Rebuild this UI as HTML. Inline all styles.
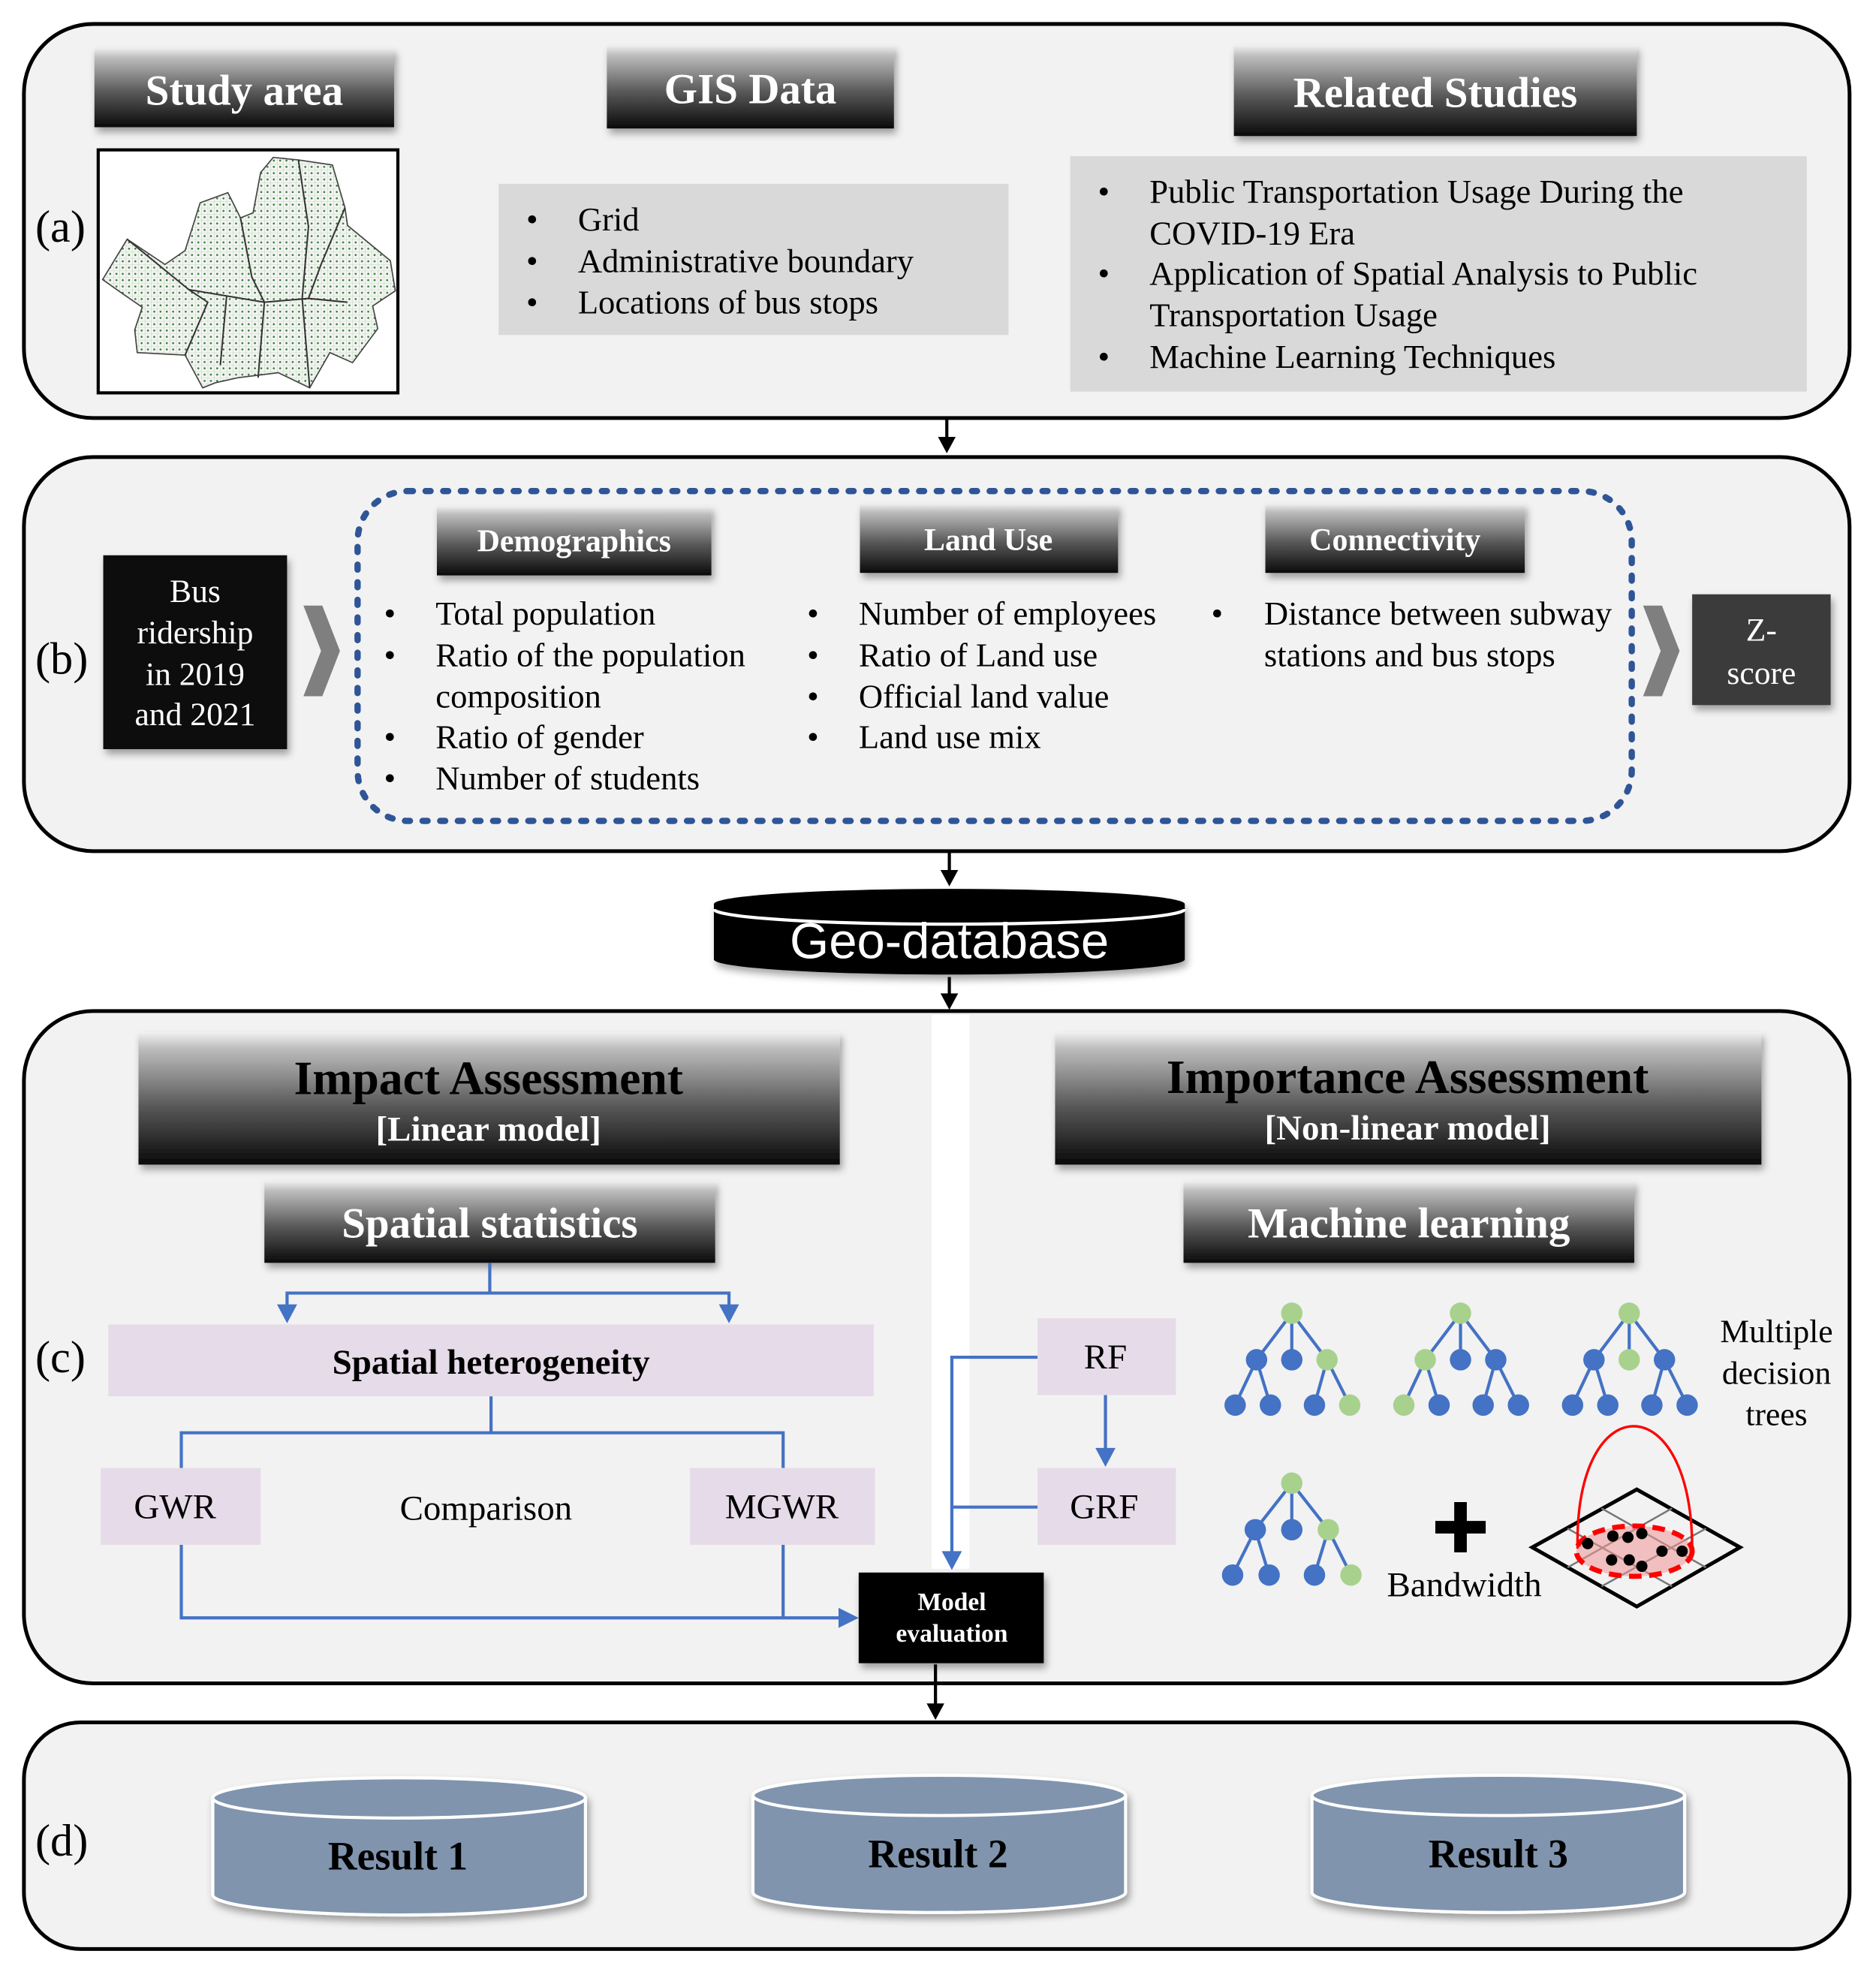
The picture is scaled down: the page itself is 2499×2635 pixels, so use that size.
<!DOCTYPE html>
<html><head><meta charset="utf-8"><style>
html,body{margin:0;padding:0;background:#fff;}
svg{display:block;}
text{font-family:"Liberation Serif",serif;}
</style></head><body>
<svg width="2499" height="2635" viewBox="0 0 1490 1571" xmlns="http://www.w3.org/2000/svg">
<defs>
<linearGradient id="hg" x1="0" y1="0" x2="0" y2="1">
<stop offset="0" stop-color="#f0f0f0"/><stop offset="0.12" stop-color="#bdbdbd"/><stop offset="0.55" stop-color="#5a5a5a"/><stop offset="1" stop-color="#0a0a0a"/></linearGradient>
<filter id="sh" x="-10%" y="-10%" width="130%" height="140%"><feDropShadow dx="2" dy="4" stdDeviation="3" flood-color="#000" flood-opacity="0.35"/></filter>
<pattern id="grid" width="5" height="5" patternUnits="userSpaceOnUse"><rect width="5" height="5" fill="#f3f6f2"/><path d="M0 0H5M0 0V5" stroke="#b5c9b0" stroke-width="0.5"/><circle cx="2.5" cy="2.5" r="0.8" fill="#3f7a3f"/></pattern>
</defs>

<!-- (a) -->
<rect x="19" y="19" width="1450" height="313" rx="55" fill="#f2f2f2" stroke="#000" stroke-width="3"/>
<text x="28" y="192" font-size="36">(a)</text>
<g filter="url(#sh)">
<rect x="75" y="38" width="238" height="63" fill="url(#hg)"/>
<rect x="482" y="36" width="228" height="66" fill="url(#hg)"/>
<rect x="980" y="36" width="320" height="72" fill="url(#hg)"/>
</g>
<g fill="#fff" font-weight="bold" text-anchor="middle">
<text x="194" y="83" font-size="34">Study area</text>
<text x="596" y="82" font-size="34">GIS Data</text>
<text x="1140" y="85" font-size="34">Related Studies</text>
</g>
<rect x="78" y="119" width="238" height="193" fill="#fff" stroke="#000" stroke-width="2.5"/>
<path d="M81.5,222 L101,190 L131,210 L147,199 L159,161 L181,153 L191,173 L201,169 L207,137 L217,125 L237,127 L264,131 L274,165 L276,179 L310,207 L314,231 L296,243 L300,261 L280,288 L262,280 L246,308 L221,296 L189,300 L171,304 L161,308 L147,282 L109,280 L107,262 L113,244 L97,233 Z" fill="url(#grid)" stroke="#444" stroke-width="1"/>
<path d="M101,190 L150,230 L180,235 L210,240 L245,237 L276,240 M191,173 L200,220 L210,240 L205,300 M237,127 L245,180 L240,237 L246,308 M147,282 L165,240 L150,230 M274,165 L255,210 L245,237 M180,235 L175,290" stroke="#333" stroke-width="1.2" fill="none"/>
<rect x="396" y="146" width="405" height="120" fill="#d9d9d9"/>
<g font-size="26.6">
<text x="418" y="183">•</text><text x="459" y="183">Grid</text>
<text x="418" y="216">•</text><text x="459" y="216">Administrative boundary</text>
<text x="418" y="249">•</text><text x="459" y="249">Locations of bus stops</text>
</g>
<rect x="850" y="124" width="585" height="187" fill="#d9d9d9"/>
<g font-size="26.6">
<text x="872" y="161">•</text><text x="913" y="161">Public Transportation Usage During the</text>
<text x="913" y="194">COVID-19 Era</text>
<text x="872" y="226">•</text><text x="913" y="226">Application of Spatial Analysis to Public</text>
<text x="913" y="259">Transportation Usage</text>
<text x="872" y="292">•</text><text x="913" y="292">Machine Learning Techniques</text>
</g>
<line x1="752" y1="333" x2="752" y2="350" stroke="#000" stroke-width="2.5"/><path d="M745,347 L759,347 L752,360 z"/>

<!-- (b) -->
<rect x="19" y="363" width="1450" height="313" rx="55" fill="#f2f2f2" stroke="#000" stroke-width="3"/>
<text x="28" y="535" font-size="36">(b)</text>
<rect x="284" y="390" width="1012" height="262" rx="40" fill="none" stroke="#2f5597" stroke-width="5" stroke-dasharray="4 10" stroke-linecap="round"/>
<rect x="82" y="441" width="146" height="154" fill="#0d0d0d" filter="url(#sh)"/>
<g fill="#fff" font-size="26" text-anchor="middle">
<text x="155" y="478">Bus</text><text x="155" y="511">ridership</text><text x="155" y="544">in 2019</text><text x="155" y="576">and 2021</text>
</g>
<path d="M241,481 L256,481 L270,517 L256,553 L241,553 L255,517 z" fill="#7f7f7f"/>
<path d="M1305,481 L1320,481 L1334,517 L1320,553 L1305,553 L1319,517 z" fill="#7f7f7f"/>
<rect x="1344" y="472" width="110" height="88" fill="#3b3b3b" filter="url(#sh)"/>
<g fill="#fff" font-size="26" text-anchor="middle"><text x="1399" y="509">Z-</text><text x="1399" y="543">score</text></g>
<g filter="url(#sh)">
<rect x="347" y="402" width="218" height="55" fill="url(#hg)"/>
<rect x="683" y="400" width="205" height="55" fill="url(#hg)"/>
<rect x="1005" y="400" width="206" height="55" fill="url(#hg)"/>
</g>
<g fill="#fff" font-weight="bold" font-size="25" text-anchor="middle">
<text x="456" y="438">Demographics</text><text x="785" y="437">Land Use</text><text x="1108" y="437">Connectivity</text>
</g>
<g font-size="26.6">
<text x="305" y="496">•</text><text x="346" y="496">Total population</text>
<text x="305" y="529">•</text><text x="346" y="529">Ratio of the population</text>
<text x="346" y="562">composition</text>
<text x="305" y="594">•</text><text x="346" y="594">Ratio of gender</text>
<text x="305" y="627">•</text><text x="346" y="627">Number of students</text>
<text x="641" y="496">•</text><text x="682" y="496">Number of employees</text>
<text x="641" y="529">•</text><text x="682" y="529">Ratio of Land use</text>
<text x="641" y="562">•</text><text x="682" y="562">Official land value</text>
<text x="641" y="594">•</text><text x="682" y="594">Land use mix</text>
<text x="962" y="496">•</text><text x="1004" y="496">Distance between subway</text>
<text x="1004" y="529">stations and bus stops</text>
</g>
<line x1="754" y1="677" x2="754" y2="694" stroke="#000" stroke-width="2.5"/><path d="M747,691 L761,691 L754,704 z"/>

<!-- Geo-database -->
<g filter="url(#sh)">
<path d="M567,718 A187,12 0 0 1 941,718 L941,762 A187,12 0 0 1 567,762 Z" fill="#000"/>
</g>
<path d="M567,722 A187,12 0 0 0 941,722" fill="none" stroke="#fff" stroke-width="2.5"/>
<text x="754" y="761" font-size="40" fill="#fff" text-anchor="middle" style="font-family:'Liberation Sans',sans-serif">Geo-database</text>
<line x1="754" y1="776" x2="754" y2="792" stroke="#000" stroke-width="2.5"/><path d="M747,789 L761,789 L754,802 z"/>

<!-- (c) -->
<rect x="19" y="803" width="1450" height="534" rx="55" fill="#f2f2f2" stroke="#000" stroke-width="3"/>
<rect x="740" y="806" width="30" height="440" fill="#fff"/>
<text x="28" y="1090" font-size="36">(c)</text>
<g filter="url(#sh)">
<rect x="110" y="820" width="557" height="105" fill="url(#hg)"/>
<rect x="838" y="820" width="561" height="105" fill="url(#hg)"/>
<rect x="210" y="938" width="358" height="65" fill="url(#hg)"/>
<rect x="940" y="938" width="358" height="65" fill="url(#hg)"/>
</g>
<g font-weight="bold" text-anchor="middle">
<text x="388" y="869" font-size="38" fill="#000">Impact Assessment</text>
<text x="388" y="906" font-size="28" fill="#fff">[Linear model]</text>
<text x="1118" y="868" font-size="38" fill="#000">Importance Assessment</text>
<text x="1118" y="905" font-size="28" fill="#fff">[Non-linear model]</text>
<text x="389" y="983" font-size="34" fill="#fff">Spatial statistics</text>
<text x="1119" y="983" font-size="34" fill="#fff">Machine learning</text>
</g>
<g stroke="#4472c4" stroke-width="2.5" fill="none">
<path d="M389,1003 V1027 M228,1040 V1027 H579 V1040"/>
<path d="M390,1109 V1138 M144,1166 V1138 H622 V1166"/>
<path d="M144,1227 V1285 H668 M622,1227 V1285"/>
<path d="M824,1078 H756 V1235 M824,1197 H756"/>
<path d="M878,1108 V1152"/>
</g>
<g fill="#4472c4">
<path d="M220,1036 L236,1036 L228,1051 z"/><path d="M571,1036 L587,1036 L579,1051 z"/>
<path d="M666,1277 L682,1285 L666,1293 z"/>
<path d="M748,1232 L764,1232 L756,1247 z"/>
<path d="M870,1150 L886,1150 L878,1165 z"/>
</g>
<rect x="86" y="1052" width="608" height="57" fill="#e6dbe8"/>
<text x="390" y="1091" font-size="28" font-weight="bold" text-anchor="middle">Spatial heterogeneity</text>
<rect x="80" y="1166" width="127" height="61" fill="#e6dbe8"/>
<rect x="548" y="1166" width="147" height="61" fill="#e6dbe8"/>
<rect x="824" y="1047" width="110" height="61" fill="#e6dbe8"/>
<rect x="824" y="1166" width="110" height="61" fill="#e6dbe8"/>
<g font-size="28" text-anchor="middle">
<text x="139" y="1206">GWR</text><text x="386" y="1207">Comparison</text><text x="621" y="1206">MGWR</text>
<text x="878" y="1087">RF</text><text x="877" y="1206">GRF</text>
</g>
<rect x="682" y="1249" width="147" height="72" fill="#000" filter="url(#sh)"/>
<g fill="#fff" font-size="20" font-weight="bold" text-anchor="middle"><text x="756" y="1279">Model</text><text x="756" y="1304">evaluation</text></g>

<!-- trees -->
<g stroke="#4472c4" stroke-width="2.5">
<path d="M1026,1043 L998,1080 M1026,1043 L1026,1080 M1026,1043 L1054,1080 M998,1080 L981,1116 M998,1080 L1009,1116 M1054,1080 L1044,1116 M1054,1080 L1072,1116"/>
<path d="M1160,1043 L1132,1080 M1160,1043 L1160,1080 M1160,1043 L1188,1080 M1132,1080 L1115,1116 M1132,1080 L1143,1116 M1188,1080 L1178,1116 M1188,1080 L1206,1116"/>
<path d="M1294,1043 L1266,1080 M1294,1043 L1294,1080 M1294,1043 L1322,1080 M1266,1080 L1249,1116 M1266,1080 L1277,1116 M1322,1080 L1312,1116 M1322,1080 L1340,1116"/>
<path d="M1026,1178 L997,1215 M1026,1178 L1026,1215 M1026,1178 L1055,1215 M997,1215 L979,1251 M997,1215 L1008,1251 M1055,1215 L1044,1251 M1055,1215 L1073,1251"/>
</g>
<g>
<circle cx="1026" cy="1043" r="8.5" fill="#a9d18e"/><circle cx="998" cy="1080" r="8.5" fill="#4472c4"/><circle cx="1026" cy="1080" r="8.5" fill="#4472c4"/><circle cx="1054" cy="1080" r="8.5" fill="#a9d18e"/>
<circle cx="981" cy="1116" r="8.5" fill="#4472c4"/><circle cx="1009" cy="1116" r="8.5" fill="#4472c4"/><circle cx="1044" cy="1116" r="8.5" fill="#4472c4"/><circle cx="1072" cy="1116" r="8.5" fill="#a9d18e"/>
<circle cx="1160" cy="1043" r="8.5" fill="#a9d18e"/><circle cx="1132" cy="1080" r="8.5" fill="#a9d18e"/><circle cx="1160" cy="1080" r="8.5" fill="#4472c4"/><circle cx="1188" cy="1080" r="8.5" fill="#4472c4"/>
<circle cx="1115" cy="1116" r="8.5" fill="#a9d18e"/><circle cx="1143" cy="1116" r="8.5" fill="#4472c4"/><circle cx="1178" cy="1116" r="8.5" fill="#4472c4"/><circle cx="1206" cy="1116" r="8.5" fill="#4472c4"/>
<circle cx="1294" cy="1043" r="8.5" fill="#a9d18e"/><circle cx="1266" cy="1080" r="8.5" fill="#4472c4"/><circle cx="1294" cy="1080" r="8.5" fill="#a9d18e"/><circle cx="1322" cy="1080" r="8.5" fill="#4472c4"/>
<circle cx="1249" cy="1116" r="8.5" fill="#4472c4"/><circle cx="1277" cy="1116" r="8.5" fill="#4472c4"/><circle cx="1312" cy="1116" r="8.5" fill="#4472c4"/><circle cx="1340" cy="1116" r="8.5" fill="#4472c4"/>
<circle cx="1026" cy="1178" r="8.5" fill="#a9d18e"/><circle cx="997" cy="1215" r="8.5" fill="#4472c4"/><circle cx="1026" cy="1215" r="8.5" fill="#4472c4"/><circle cx="1055" cy="1215" r="8.5" fill="#a9d18e"/>
<circle cx="979" cy="1251" r="8.5" fill="#4472c4"/><circle cx="1008" cy="1251" r="8.5" fill="#4472c4"/><circle cx="1044" cy="1251" r="8.5" fill="#4472c4"/><circle cx="1073" cy="1251" r="8.5" fill="#a9d18e"/>
</g>
<g font-size="26" text-anchor="middle"><text x="1411" y="1066">Multiple</text><text x="1411" y="1099">decision</text><text x="1411" y="1132">trees</text></g>
<path d="M1155,1193 h10 v15 h15 v10 h-15 v15 h-10 v-15 h-15 v-10 h15 z" fill="#000"/>
<text x="1163" y="1268" font-size="28" text-anchor="middle">Bandwidth</text>
<!-- bandwidth diagram -->
<path d="M1300,1183 L1382,1229 L1300,1276 L1217,1229 Z" fill="#f2f2f2" stroke="#000" stroke-width="3"/>
<g stroke="#777" stroke-width="1.5"><path d="M1272,1198 L1355,1245 M1245,1214 L1328,1260 M1328,1198 L1245,1245 M1355,1214 L1272,1260"/></g>
<ellipse cx="1298" cy="1232" rx="46" ry="20" fill="rgba(240,150,150,0.55)" stroke="#f00" stroke-width="4" stroke-dasharray="10 6"/>
<path d="M1253,1230 C1250,1100 1345,1100 1344,1232" fill="none" stroke="#f00" stroke-width="2"/>
<g fill="#000"><circle cx="1261" cy="1226" r="4.5"/><circle cx="1281" cy="1220" r="4.5"/><circle cx="1293" cy="1221" r="4.5"/><circle cx="1304" cy="1218" r="4.5"/><circle cx="1280" cy="1239" r="4.5"/><circle cx="1294" cy="1239" r="4.5"/><circle cx="1304" cy="1244" r="4.5"/><circle cx="1320" cy="1232" r="4.5"/><circle cx="1336" cy="1232" r="4.5"/></g>
<line x1="743" y1="1322" x2="743" y2="1355" stroke="#000" stroke-width="2.5"/><path d="M736,1353 L750,1353 L743,1366 z"/>

<!-- (d) -->
<rect x="19" y="1368" width="1450" height="180" rx="45" fill="#f2f2f2" stroke="#000" stroke-width="3"/>
<text x="28" y="1474" font-size="36">(d)</text>
<g filter="url(#sh)" fill="#8094ae" stroke="#fff" stroke-width="2.5">
<path d="M169,1428 A148,16 0 0 1 465,1428 L465,1505 A148,16 0 0 1 169,1505 Z"/>
<path d="M598,1426 A148,16 0 0 1 894,1426 L894,1503 A148,16 0 0 1 598,1503 Z"/>
<path d="M1042,1426 A148,16 0 0 1 1338,1426 L1338,1503 A148,16 0 0 1 1042,1503 Z"/>
</g>
<g fill="none" stroke="#fff" stroke-width="2.5">
<path d="M169,1428 A148,16 0 0 0 465,1428"/><path d="M598,1426 A148,16 0 0 0 894,1426"/><path d="M1042,1426 A148,16 0 0 0 1338,1426"/>
</g>
<g font-size="32" font-weight="bold" text-anchor="middle">
<text x="316" y="1485">Result 1</text><text x="745" y="1483">Result 2</text><text x="1190" y="1483">Result 3</text>
</g>
</svg>
</body></html>
